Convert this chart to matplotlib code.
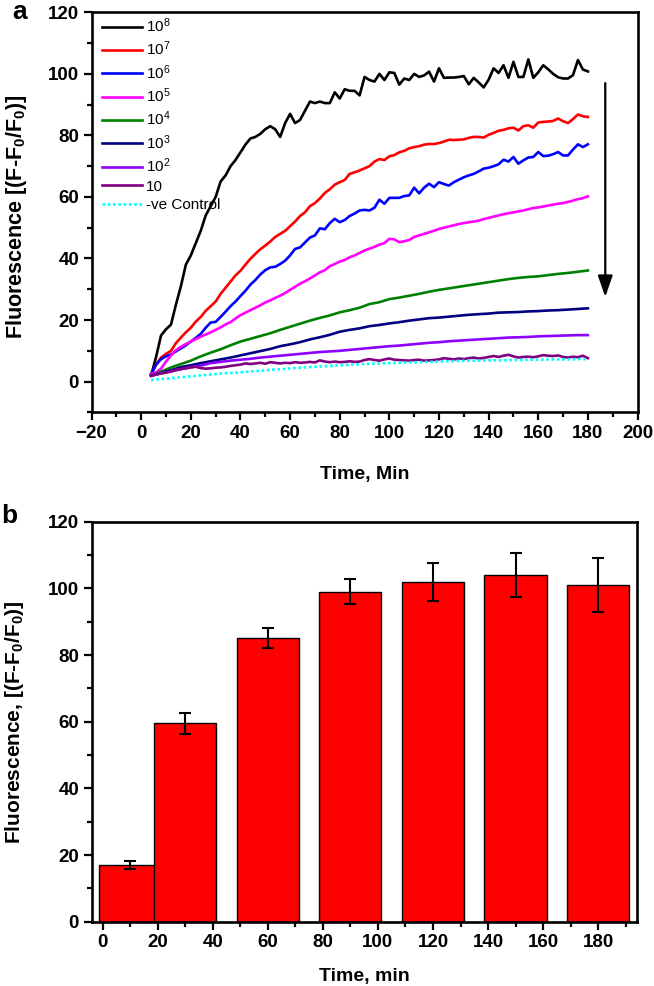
import numpy as np
import matplotlib
matplotlib.use('Agg')
import matplotlib.pyplot as plt
from matplotlib.ticker import MultipleLocator

plt.rcParams['font.family'] = ['Liberation Sans', 'DejaVu Sans']
plt.rcParams['mathtext.fontset'] = 'custom'
plt.rcParams['mathtext.rm'] = 'Liberation Sans'
plt.rcParams['mathtext.bf'] = 'Liberation Sans:bold'
plt.rcParams['mathtext.it'] = 'Liberation Sans:italic'

# ---- panel a : kinetic curves ----
# time grids (min)
t2 = list(range(4, 182, 2))
t4 = list(range(4, 184, 4))

black_1e8 = [2, 8, 15, 17, 18.5, 25, 31, 38, 41, 45, 49, 54, 57, 60, 65, 67, 70, 72, 74.5, 77,
             79, 79.5, 80.5, 82, 83, 82, 79.5, 84, 87, 84, 85, 88, 91, 90.5, 91, 90.5, 90.5, 94, 92, 95,
             94.5, 94.5, 93, 99, 98, 97.5, 100, 98, 100.5, 100.3, 96.5, 98.5, 98, 100, 99, 99.5, 100.7, 97.5, 101.8, 98.7,
             98.8, 98.8, 99, 99.3, 96.6, 98.7, 97.2, 95.6, 98.1, 101.8, 100.3, 102.8, 98.7, 103.9, 99, 99, 104.7, 98.7, 100.5, 102.8,
             101.5, 100, 98.9, 98.5, 98.5, 99.6, 104.5, 101.4, 100.8]
red_1e7 = [2.4, 5.5, 7.8, 9, 10, 12.5, 14.3, 16, 17.5, 19.5, 21, 23, 24.5, 26, 28.5, 30.5, 32.5, 34.5, 36, 38,
           39.9, 41.5, 43, 44.2, 45.5, 47, 48, 49, 50.5, 52, 53.8, 55, 57, 58, 59.5, 61.3, 62.5, 64, 64.8, 65.5,
           67.5, 68, 68.6, 69.3, 70, 71.5, 72.3, 72, 73.2, 73.6, 74.5, 75, 75.8, 76.2, 76.5, 77, 77.2, 77.2, 77.5, 78,
           78.6, 78.5, 78.6, 78.7, 79.2, 79.5, 79.5, 79.3, 80.2, 80.8, 81.5, 81.8, 82.3, 82.5, 81.6, 83, 83.3, 82.5, 84.2, 84.4,
           84.5, 84.7, 85.5, 84.6, 84, 85.3, 86.8, 86.2, 86]
blue_1e6 = [2.4, 5.5, 7.3, 8.2, 8.8, 9.8, 10.8, 11.8, 13, 14.2, 15.5, 17.5, 19.2, 19.4, 21, 22.7, 24.5, 26, 27.8, 29.5,
            31.5, 33, 34.8, 36.2, 37.1, 37.3, 38.2, 39.3, 41, 43.1, 43.6, 45.2, 46.8, 47.5, 49.8, 49.5, 51.5, 52.9, 51.8, 52.5,
            53.8, 54.6, 55.6, 55.8, 55.6, 56.5, 59.1, 57.8, 59.7, 59.7, 59.7, 60.3, 60.5, 63, 61.2, 63, 64.3, 63.2, 64.8, 64.2,
            63.7, 64.8, 65.6, 66.4, 67, 67.5, 68.3, 69.2, 69.5, 70, 70.6, 72.1, 71.5, 73, 70.8, 71.9, 72.8, 73, 74.6, 73.3,
            73.4, 73.9, 74.6, 73.5, 73.5, 75.4, 77.1, 76.2, 77.1]
magenta_1e5 = [2.4, 3, 4.2, 6.5, 8.5, 10.2, 11.3, 12.2, 13, 13.8, 14.6, 15.3, 16, 16.8, 17.6, 18.6, 19.3, 20.5, 21.6, 22.4,
               23.2, 24, 24.8, 25.7, 26.4, 27.2, 27.9, 28.8, 29.8, 30.8, 31.8, 32.6, 33.5, 34.5, 35.5, 36.2, 37.5, 38.2, 39, 39.5,
               40.4, 41, 41.8, 42.6, 43.2, 43.8, 44.5, 45, 46.4, 46.2, 45.3, 45.6, 46, 47, 47.5, 48, 48.5, 49, 49.6, 50,
               50.4, 50.8, 51.2, 51.5, 51.8, 52, 52.3, 52.8, 53.2, 53.6, 54, 54.4, 54.7, 55, 55.3, 55.6, 56, 56.4, 56.6, 56.9,
               57.2, 57.5, 57.8, 58, 58.4, 58.8, 59.3, 59.6, 60.2]
green_1e4 = [1.9, 3.2, 4.6, 5.7, 6.8, 8.2, 9.4, 10.5, 11.8, 13, 13.9, 14.8, 15.7, 16.8, 17.8, 18.8, 19.8, 20.7, 21.5, 22.5,
             23.2, 24, 25.2, 25.8, 26.8, 27.3, 27.9, 28.5, 29.2, 29.8, 30.3, 30.8, 31.3, 31.8, 32.3, 32.8, 33.3, 33.7, 34, 34.2,
             34.6, 35, 35.3, 35.7, 36.1]
navy_1e3 = [1.9, 2.8, 3.7, 4.7, 5.3, 6, 6.6, 7.2, 7.8, 8.5, 9.2, 9.9, 10.6, 11.5, 12.1, 12.8, 13.7, 14.4, 15.2, 16.2,
            16.8, 17.3, 18, 18.4, 18.9, 19.3, 19.8, 20.2, 20.6, 20.8, 21.1, 21.4, 21.7, 21.9, 22.1, 22.4, 22.5, 22.6, 22.8, 22.9,
            23.1, 23.2, 23.4, 23.6, 23.8]
violet_1e2 = [1.9, 2.7, 3.3, 4, 4.7, 5.2, 6, 6.4, 6.8, 7.1, 7.4, 7.8, 8.1, 8.4, 8.7, 9, 9.3, 9.6, 9.8, 10,
              10.3, 10.6, 10.9, 11.2, 11.5, 11.7, 12, 12.3, 12.6, 12.8, 13.1, 13.3, 13.5, 13.7, 13.9, 14.1, 14.3, 14.4, 14.5, 14.7,
              14.8, 14.9, 15, 15.1, 15.1]
purple_10 = [1.9, 2.3, 2.6, 2.9, 3.3, 3.8, 4.1, 4.3, 4.6, 4.8, 4.4, 4.2, 4.3, 4.5, 4.6, 4.8, 5.1, 5.3, 5.5, 5.9,
             5.7, 5.9, 6.1, 5.8, 6.3, 6.1, 5.9, 6.1, 6.0, 6.3, 6.1, 6.2, 6.4, 6.2, 6.9, 6.5, 6.3, 6.5, 6.3, 6.4,
             6.6, 6.4, 6.5, 7.0, 7.3, 7.0, 6.8, 7.2, 7.5, 7.1, 7.0, 6.9, 6.8, 7.0, 7.1, 6.8, 6.9, 7.0, 7.2, 7.6,
             7.4, 7.2, 7.5, 7.3, 7.6, 7.8, 7.5, 7.7, 8.0, 8.3, 8.0, 8.4, 8.7, 8.2, 7.8, 8.0, 8.1, 7.9, 8.2, 8.6,
             8.4, 8.3, 8.5, 8.0, 7.8, 8.1, 7.9, 8.4, 7.6]
control = [0.5, 0.8, 1.1, 1.4, 1.7, 2.0, 2.3, 2.6, 2.8, 3.0, 3.3, 3.5, 3.8, 4.0, 4.3, 4.5, 4.7, 4.9, 5.1, 5.3,
           5.5, 5.6, 5.8, 5.9, 6.0, 6.1, 6.2, 6.3, 6.4, 6.5, 6.6, 6.7, 6.8, 6.8, 6.9, 6.9, 7.0, 7.0, 7.1, 7.1,
           7.2, 7.2, 7.2, 7.3, 7.3]

# ---- panel b : bars ----
bar_time = [10, 30, 60, 90, 120, 150, 180]
bar_val = [17, 59.5, 85, 99, 102, 104, 101]
bar_err = [1.2, 3.2, 3, 3.8, 5.7, 6.5, 8]

fig = plt.figure(figsize=(6.54, 9.86), dpi=100)
ax1 = fig.add_axes([0.1400, 0.5818, 0.8348, 0.4057])
ax2 = fig.add_axes([0.1400, 0.0652, 0.8336, 0.4057])

lw = 1.9
ax1.plot(t2, black_1e8, color='black', lw=lw, label='10$^{8}$')
ax1.plot(t2, red_1e7, color='#ff0000', lw=lw, label='10$^{7}$')
ax1.plot(t2, blue_1e6, color='#0000ff', lw=lw, label='10$^{6}$')
ax1.plot(t2, magenta_1e5, color='#ff00ff', lw=lw, label='10$^{5}$')
ax1.plot(t4, green_1e4, color='#008000', lw=lw, label='10$^{4}$')
ax1.plot(t4, navy_1e3, color='#000080', lw=lw, label='10$^{3}$')
ax1.plot(t4, violet_1e2, color='#8b00ff', lw=lw, label='10$^{2}$')
ax1.plot(t2, purple_10, color='#800080', lw=lw, label='10')
ax1.plot(t4, control, color='#00ffff', lw=lw, ls=(0, (1, 1)), label='-ve Control')

ax1.annotate('', xy=(187, 27.5), xytext=(187, 97),
             arrowprops=dict(arrowstyle='-|>,head_length=1.3,head_width=0.45',
                             color='black', lw=1.6, shrinkA=0, shrinkB=0, mutation_scale=10))

ax1.set_xlim(-20, 200)
ax1.set_ylim(-10, 120)
ax1.xaxis.set_major_locator(MultipleLocator(20))
ax1.xaxis.set_minor_locator(MultipleLocator(10))
ax1.yaxis.set_major_locator(MultipleLocator(20))
ax1.yaxis.set_minor_locator(MultipleLocator(10))
ax1.set_yticks([0, 20, 40, 60, 80, 100, 120])

leg = ax1.legend(loc='upper left', bbox_to_anchor=(0.02, 0.99), frameon=False, fontsize=11,
                 handlelength=2.6, handletextpad=0.25, labelspacing=0.31, borderaxespad=0, borderpad=0)

ax1.set_xlabel('Time, Min', fontsize=14, fontweight='bold')
ax1.set_ylabel(r'Fluorescence [(F-F$_{\mathbf{0}}$/F$_{\mathbf{0}}$)]', fontsize=15.5, fontweight='bold')
ax1.xaxis.set_label_coords(0.5, -0.135)
ax1.yaxis.set_label_coords(-0.115, 0.489)

# bars
ax2.bar(bar_time, bar_val, width=22.6, color='#ff0000', edgecolor='black', linewidth=1.0,
        yerr=bar_err, error_kw=dict(ecolor='black', elinewidth=1.5, capsize=4, capthick=1.5))
ax2.set_xlim(-4, 194)
ax2.set_ylim(0, 120)
ax2.xaxis.set_major_locator(MultipleLocator(20))
ax2.xaxis.set_minor_locator(MultipleLocator(10))
ax2.yaxis.set_major_locator(MultipleLocator(20))
ax2.yaxis.set_minor_locator(MultipleLocator(10))
ax2.set_xlabel('Time, min', fontsize=14, fontweight='bold')
ax2.set_ylabel(r'Fluorescence, [(F-F$_{\mathbf{0}}$/F$_{\mathbf{0}}$)]', fontsize=15, fontweight='bold')
ax2.xaxis.set_label_coords(0.5, -0.115)
ax2.yaxis.set_label_coords(-0.12, 0.5)

for ax in (ax1, ax2):
    for s in ax.spines.values():
        s.set_linewidth(1.9)
    ax.tick_params(which='both', direction='out', top=False, right=False, width=1.6)
    ax.tick_params(which='major', length=6, labelsize=13.5, pad=3)
    ax.tick_params(which='minor', length=3.5)
    for lab in ax.get_xticklabels() + ax.get_yticklabels():
        lab.set_fontweight('bold')

fig.text(0.019, 0.981, 'a', fontsize=19, fontweight='bold', ha='left', va='baseline')
fig.text(0.002, 0.4695, 'b', fontsize=19, fontweight='bold', ha='left', va='baseline')

fig.savefig('out.png', dpi=100)
